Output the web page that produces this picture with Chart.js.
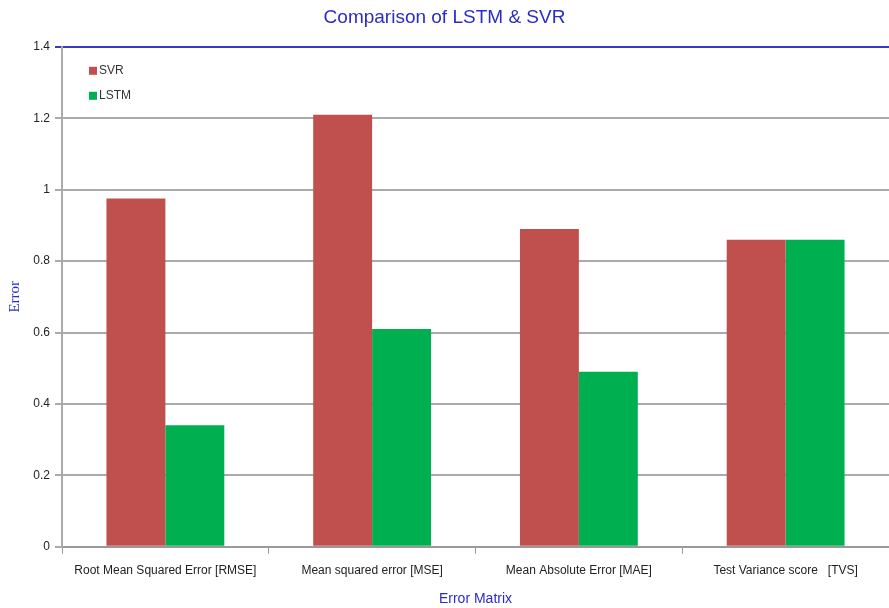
<!DOCTYPE html>
<html>
<head>
<meta charset="utf-8">
<script src="https://cdn.jsdelivr.net/npm/chart.js@4"></script>
<style>
  html, body { margin: 0; padding: 0; background: #fff; }
  #wrap { width: 889px; height: 608px; position: relative; }
</style>
</head>
<body>
<div id="wrap"><canvas id="error_chart"></canvas></div>
<script>
const categories = [
    'Root Mean Squared Error [RMSE]',
    'Mean squared error [MSE]',
    'Mean Absolute Error [MAE]',
    'Test Variance score   [TVS]'
];
const svrValues = [0.975, 1.21, 0.89, 0.86];
const lstmValues = [0.34, 0.61, 0.49, 0.86];
const yTicks = [0, 0.2, 0.4, 0.6, 0.8, 1, 1.2, 1.4];

const FONT = "'Liberation Sans', Arial, sans-serif";

// legend drawn inside the plot, top-left, one item per row
const innerLegend = {
    id: 'innerLegend',
    afterDraw(chart) {
        const ctx = chart.ctx;
        const area = chart.chartArea;
        ctx.save();
        ctx.font = '12px ' + FONT;
        ctx.textBaseline = 'middle';
        chart.data.datasets.forEach((ds, i) => {
            const x = area.left + 27;
            const y = area.top + 24 + i * 25;
            ctx.fillStyle = ds.backgroundColor;
            ctx.fillRect(x, y - 4, 8, 8);
            ctx.fillStyle = '#333';
            ctx.fillText(ds.label, x + 10, y);
        });
        ctx.restore();
    }
};

function prepareChart()
{
    const data = {
        labels: categories,
        datasets: [{
            label: 'SVR',
            backgroundColor: '#c0504d',
            data: svrValues
        }, {
            label: 'LSTM',
            backgroundColor: '#00b050',
            data: lstmValues
        }]
    };

    const config = {
        type: 'bar',
        data: data,
        plugins: [innerLegend],
        options: {
            responsive: true,
            maintainAspectRatio: false,
            animation: false,
            layout: { padding: { top: 6, right: 0, bottom: 0, left: 0 } },
            datasets: {
                bar: { categoryPercentage: 0.57, barPercentage: 1.0 }
            },
            plugins: {
                title: {
                    display: true,
                    text: 'Comparison of LSTM & SVR',
                    color: '#2b2bc8',
                    font: { family: FONT, size: 19, weight: 'normal' },
                    padding: { top: 0, bottom: 18 }
                },
                legend: { display: false },
                tooltip: { enabled: false }
            },
            scales: {
                x: {
                    grid: {
                        offset: true,
                        drawOnChartArea: false,
                        tickLength: 7,
                        color: '#999',
                        lineWidth: 1
                    },
                    border: { color: '#999', width: 2 },
                    ticks: {
                        color: '#222',
                        padding: 10,
                        maxRotation: 0,
                        autoSkip: false,
                        font: { family: FONT, size: 12 }
                    },
                    title: {
                        display: true,
                        text: 'Error Matrix',
                        color: '#2b2bc8',
                        font: { family: FONT, size: 14 },
                        padding: { top: 3, bottom: 0 }
                    }
                },
                y: {
                    min: 0,
                    max: 1.4,
                    afterBuildTicks: function(scale) {
                        scale.ticks = yTicks.map(v => ({ value: v }));
                    },
                    afterFit: function(scale) {
                        scale.width = 62;
                    },
                    grid: {
                        tickLength: 7,
                        color: ctx => (ctx.tick && ctx.tick.value === 1.4) ? '#3a3ac0' : '#aaa',
                        lineWidth: 2
                    },
                    border: { color: '#aaa', width: 2 },
                    ticks: {
                        color: '#222',
                        padding: 5,
                        font: { family: FONT, size: 12 },
                        callback: v => String(v)
                    },
                    title: {
                        display: true,
                        text: 'Error',
                        color: '#2b2bc8',
                        font: { family: "'Liberation Serif', 'Times New Roman', serif", size: 15 },
                        padding: { top: 6, bottom: 0 }
                    }
                }
            }
        }
    };

    new Chart(document.getElementById('error_chart'), config);
}

window.addEventListener('load', prepareChart);
</script>
</body>
</html>
